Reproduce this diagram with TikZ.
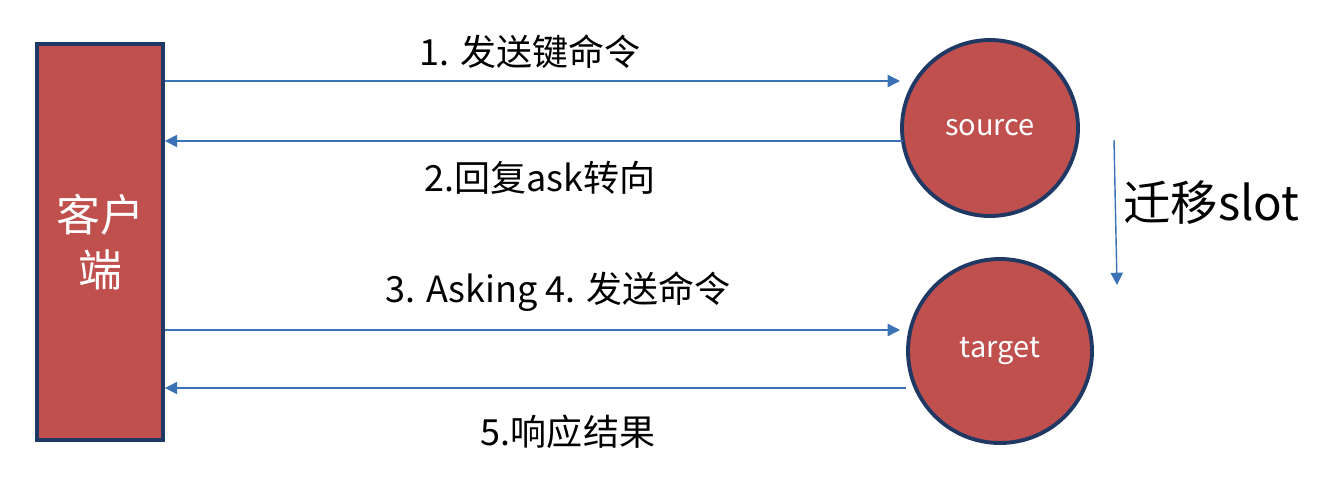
\documentclass[tikz,border=0pt]{standalone}
\usepackage{fontspec}
\setmainfont{Noto Sans CJK SC}
\usetikzlibrary{arrows.meta}
\definecolor{boxred}{HTML}{C0504D}
\definecolor{boxedge}{HTML}{1F3864}
\definecolor{arrowblue}{HTML}{3A72B5}
\tikzset{
  redshape/.style={fill=boxred, draw=boxedge, line width=2.2pt, text=white},
  msg/.style={draw=arrowblue, line width=0.8pt, -{Triangle[length=7pt,width=7pt]}},
  lbl/.style={font=\fontsize{20.5}{24}\selectfont, text=black, inner sep=0pt}
}
\begin{document}
\begin{tikzpicture}[x=0.02cm, y=-0.02cm]
\useasboundingbox (0,0) rectangle (1324,484);
\node[redshape, minimum width=126*0.02cm, minimum height=396*0.02cm, inner sep=0pt,
      align=center, font=\fontsize{25}{31}\selectfont] (client) at (100,242) {客户\\端};
\node[redshape, circle, minimum size=176*0.02cm, inner sep=0pt, font=\fontsize{16.5}{20}\selectfont] (source) at (990,128) {source};
\node[redshape, circle, minimum size=184*0.02cm, inner sep=0pt, font=\fontsize{16.5}{20}\selectfont] (target) at (1000,351) {target};

\coordinate (c1) at (client.east |- 0,81);
\coordinate (s1) at (900,81);
\coordinate (s2) at (903,141);
\coordinate (c2) at (client.east |- 0,141);
\coordinate (c3) at (client.east |- 0,330);
\coordinate (t3) at (900,330);
\coordinate (t4) at (906,388);
\coordinate (c4) at (client.east |- 0,388);
\coordinate (m1) at (1114,140);
\coordinate (m2) at (1117,285);

\draw[msg] (c1) -- (s1);
\draw[msg] (s2) -- (c2);
\draw[msg] (c3) -- (t3);
\draw[msg] (t4) -- (c4);
\draw[msg] (m1) -- (m2);

\node[lbl] (l1) at (530,52) {1. 发送键命令};
\node[lbl] (l2) at (540,178) {2.回复ask转向};
\node[lbl] (l3) at (558,292) {3. Asking 4. 发送命令};
\node[lbl] (l4) at (568,432) {5.响应结果};
\node[lbl, anchor=west, font=\fontsize{27}{32}\selectfont] (l5) at (1123,203) {迁移slot};
\end{tikzpicture}
\end{document}
